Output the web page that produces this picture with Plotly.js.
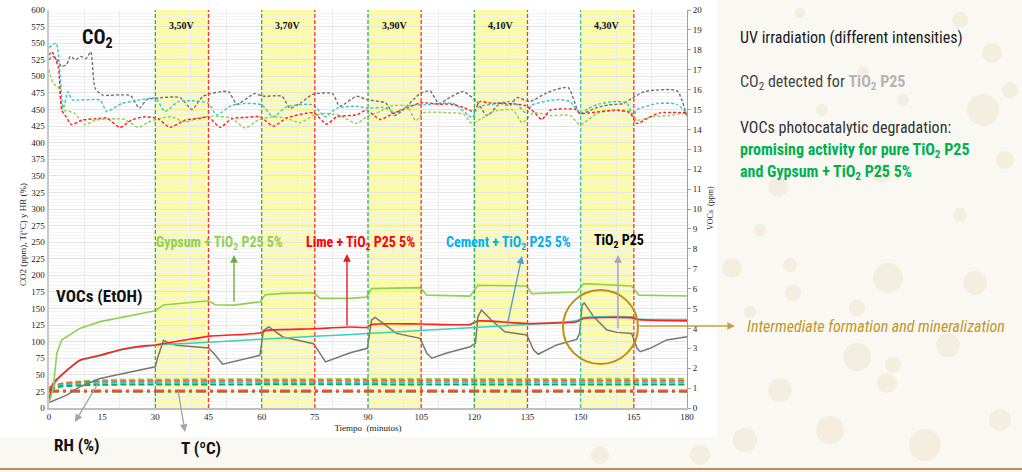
<!DOCTYPE html>
<html>
<head>
<meta charset="utf-8">
<script src="https://cdn.plot.ly/plotly-3.0.1.min.js"></script>
<style>html,body{margin:0;padding:0;background:#faf8f3;}#chart{width:1022px;height:472px;}</style>
</head>
<body>
<div id="chart"></div>
<script>
// ---------------- DATA ----------------
// Irradiation bands (minutes) and voltage labels
const bandStarts = [30, 60, 90, 120, 150];
const bandLength = 15;
const bandLabels = ['3,50V', '3,70V', '3,90V', '4,10V', '4,30V'];
const xTicks = [0, 15, 30, 45, 60, 75, 90, 105, 120, 135, 150, 165, 180];

// CO2 (ppm, left axis) – dotted lines
const co2TiO2Time = [0,1,2,3.5,5,6,7.5,9,10.5,11.8,13,15,20,23,25.5,27.6,30,37,40.3,43.5,50.6,53,58,60.4,65.7,68,71,74.5,80,82,86.8,89.6,93.4,95,97.5,100,104.7,107.5,110,113,116.8,120.7,123.6,127.3,130,132,135.7,140,143,146.5,149.8,154.6,158,162,164.8,168,177.2,180];
const co2TiO2 = [525,530,527,515,518,530,525,530,527,537,482,472,472,471,452,465,467,468,450,470,477,458,474,470,470,452,460,473,474,455,470,465,462,460,441,450,474,478,459,468,477,462,441,459,456,468,462,474,480,483,444,453,457,459,468,477,478,438];

const co2CementTime = [0,2,4,5.4,6.5,14.4,16.3,20.5,24.3,30,32.7,36.5,41.2,45,47.3,51.5,55.3,60,63.2,67,74.5,77.9,81.2,86.8,89.6,94.3,97.8,101.6,106,114,119.4,121,126.3,131,134.8,136,140.6,144,147,149.8,152,155,160,163,164.8,166,171.6,177,180];
const co2Cement = [543,550,452,477,465,464,447,459,463,467,447,462,463,459,442,456,459,457,439,454,457,439,452,455,452,453,446,456,457,459,438,453,459,462,444,456,463,465,462,444,451,458,462,460,441,450,459,458,444];

const co2LimeTime = [0,0.8,2.6,3.6,4.5,6.4,9.2,13,16.3,20,23.3,27,30.8,34.1,38.4,43,45,48.3,51.5,55.3,59.5,63.3,67,74.6,78.3,81.2,86.8,89.6,93.4,97.1,101,104.7,110.3,113.5,117,119.7,121.6,124,130,134.3,136.7,139,141.4,146,148.6,149.8,152.6,160.2,163.9,165.8,169.6,172.4,180];
const co2Lime = [532,537,514,449,442,427,434,436,437,423,434,439,436,423,434,437,439,423,436,438,439,425,437,445,428,439,442,449,435,444,452,460,458,458,453,447,462,460,459,456,447,435,449,451,450,444,445,449,445,429,439,445,445];

const co2GypsumTime = [0,1.2,2.6,4,5.9,7.3,10.2,13,17.7,21.4,25.2,28,30.8,34.5,38.4,42,45.8,51.5,55.3,59,63,67,70.8,74.6,78.3,82,86.8,89.6,93.4,96.2,101,103.5,105.6,113,117,119.3,121.6,126,131,133.5,136.7,141.4,147,149.8,154.7,160,164,166,170,175,180];
const co2Gypsum = [510,489,484,449,447,444,427,434,436,435,423,431,436,439,431,437,440,437,422,434,439,437,430,441,444,441,429,439,447,455,455,433,445,445,443,429,435,448,449,430,445,441,441,427,444,449,447,434,439,441,445];

// VOCs (ppm, right axis) – solid lines
const vocGypsumTime = [0,1.2,2.2,3.6,5,8.7,14.4,20,25.7,30,32.3,37.9,45,46.9,52,59.5,61,66,74.6,76.5,85,89.6,91,104.7,106.6,118.8,121,134.8,136.2,148.9,150.8,164.4,166.4,180];
const vocGypsum = [0.27,1.0,2.75,3.42,3.58,4.0,4.34,4.54,4.72,4.89,5.18,5.26,5.39,5.19,5.17,5.33,5.69,5.76,5.79,5.51,5.51,5.58,6.0,6.05,5.67,5.62,6.17,6.13,5.75,5.83,6.25,6.13,5.67,5.63];

const vocLimeTime = [0,1.1,4,8.7,14.4,20,25.7,30,38.8,45,59.5,61.4,74.6,85,89.6,91,104.7,118.8,121,134.8,148.9,150.8,164.4,166,180];
const vocLime = [0.32,1.23,1.73,2.4,2.65,2.93,3.1,3.17,3.43,3.6,3.77,3.9,3.98,4.07,4.05,4.2,4.22,4.2,4.37,4.25,4.33,4.5,4.53,4.45,4.38];

const vocCementTime = [0,1.6,4,8.7,14.4,20,30,45,60,75,90,105,120,135,149,150.8,164.4,166.4,180];
const vocCement = [0.3,1.2,1.72,2.38,2.63,2.9,3.15,3.3,3.46,3.6,3.75,3.9,4.05,4.2,4.4,4.55,4.58,4.47,4.45];

const vocTiO2Time = [0,5,8.7,14.4,20,25.7,30,30.6,32.3,34,36,45,46.6,49,52,59.5,60.5,62,66,74.6,76.5,78,85,89.8,91,92,94.3,98,104.7,106.6,108,112,118.8,120.3,121,122,124.8,128.6,134.8,136.7,138,143.2,148.9,149.7,150.4,151,153.7,157.4,160.3,164.4,165.9,166.8,169.6,174.3,180];
const vocTiO2 = [0.27,0.65,1.07,1.48,1.7,1.9,2.07,2.5,3.4,3.25,3.15,3.02,2.73,2.2,2.32,2.65,3.9,4.07,3.57,3.23,2.73,2.32,2.78,3.0,4.42,4.55,4.25,3.75,3.5,2.75,2.5,2.75,3.08,3.25,4.58,4.92,4.42,3.83,3.67,2.92,2.7,3.17,3.45,3.75,5.17,5.28,4.58,3.92,3.8,3.75,3.0,2.83,3.0,3.42,3.58];

// Relative humidity (%) – dashed, and temperature (ºC) – dash-dot, left axis
const rhTime = [0,3,8,15,30,180];
const rhGypsum = [29,36,40,42,43,44];
const rhLime = [31,36,38.5,40,41,41.5];
const rhCement = [28,34,36.5,38,38.5,39];
const rhGreen = [27,32,34,35,35.5,35.5];
const tTime = [0,180];
const tGray = [24,24];
const tGypsum = [25,25];
const tGreen = [25.5,25.5];
const tLime = [26.5,26.5];

// ---------------- STYLE / GEOMETRY ----------------
const PL = 49, PT = 10, PW = 638, PH = 398;
const px2x = p => (p - PL) / PW;
const py2y = p => (PT + PH - p) / PH;
const NARROW = 'Liberation Sans Narrow, Arial Narrow, Roboto Condensed, Roboto, sans-serif';
const SERIF = 'Liberation Serif, Times New Roman, serif';

const C = {gray:'#7a7a7a', cyan:'#33c6d0', red:'#ff2020', gyp:'#92d050', green:'#00b050'};

function line(x, y, color, dash, width, axis, shape) {
  return {x:x, y:y, type:'scatter', mode:'lines', yaxis: axis || 'y', hoverinfo:'skip',
          line:{color:color, dash:dash, width:width, shape: shape || 'spline', smoothing:0.6}};
}

const traces = [
  line(rhTime, rhGypsum, C.gyp, '6px,3px', 2),
  line(rhTime, rhLime, '#ff5a2a', '6px,3px', 2),
  line(rhTime, rhCement, C.cyan, '6px,3px', 2),
  line(rhTime, rhGreen, C.green, '6px,3px', 2),
  line(tTime, tGray, '#8c8c8c', '10px,4px,3px,4px', 2),
  line(tTime, tGypsum, '#a8b84a', '10px,4px,3px,4px', 2),
  line(tTime, tGreen, C.green, '10px,4px,3px,4px', 2),
  line(tTime, tLime, '#ff4a2a', '10px,4px,3px,4px', 2),
  line(co2TiO2Time, co2TiO2, '#707070', '3px,2px', 1.4),
  line(co2CementTime, co2Cement, C.cyan, '3px,2px', 1.4),
  line(co2GypsumTime, co2Gypsum, C.gyp, '3px,2px', 1.4),
  line(co2LimeTime, co2Lime, C.red, '3px,2px', 1.4),
  line(vocTiO2Time, vocTiO2, '#787870', 'solid', 1.5, 'y2', 'linear'),
  line(vocCementTime, vocCement, '#3ccfc0', 'solid', 1.5, 'y2'),
  line(vocLimeTime, vocLime, C.red, 'solid', 1.6, 'y2'),
  line(vocGypsumTime, vocGypsum, '#8fd14f', 'solid', 1.6, 'y2', 'linear')
];

// ---------------- SHAPES ----------------
const shapes = [];
// white chart image area
shapes.push({type:'rect', xref:'paper', yref:'paper', x0:px2x(0), x1:px2x(717), y0:py2y(437), y1:py2y(0),
  fillcolor:'#ffffff', line:{width:0}, layer:'below'});
// decorative slide bubbles
const bubbles = [[732,268,10],[790,265,7],[888,278,15],[975,283,12],[793,293,8],[857,308,8],[750,312,6],
  [857,357,14],[948,345,12],[893,365,8],[780,390,12],[887,383,10],[983,110,16],[992,53,10],[1010,90,8],
  [800,13,5],[863,72,6],[822,110,6],[903,100,6],[778,187,10],[882,173,10],[1005,160,9],[960,215,7],
  [745,440,12],[830,430,14],[925,445,16],[1000,420,11],[700,455,10],[600,455,9],[960,20,8],[760,230,6]];
bubbles.forEach(b => shapes.push({type:'circle', xref:'paper', yref:'paper',
  x0:px2x(b[0]-b[2]), x1:px2x(b[0]+b[2]), y0:py2y(b[1]+b[2]), y1:py2y(b[1]-b[2]),
  fillcolor:'rgba(222,200,150,0.2)', line:{width:0}, layer:'below'}));
// bottom slide rule
shapes.push({type:'line', xref:'paper', yref:'paper', x0:px2x(0), x1:px2x(1022), y0:py2y(469), y1:py2y(469),
  line:{color:'#c08a5a', width:2}});
// irradiation bands + edges
bandStarts.forEach((s, i) => {
  shapes.push({type:'rect', xref:'x', yref:'y', x0:s, x1:s + bandLength, y0:0, y1:600,
    fillcolor:'#fbfba6', line:{width:0}, layer:'below'});
  shapes.push({type:'line', xref:'x', yref:'y', x0:s, x1:s, y0:0, y1:600,
    line:{color: i === 4 ? '#3cc8a0' : '#2db84a', width:1.3, dash:'4px,2px'}});
  shapes.push({type:'line', xref:'x', yref:'y', x0:s + bandLength, x1:s + bandLength, y0:0, y1:600,
    line:{color:'#ff3030', width:1.3, dash:'4px,2px'}});
});
// highlight circle
shapes.push({type:'circle', xref:'paper', yref:'paper', x0:px2x(563), x1:px2x(638), y0:py2y(364), y1:py2y(290),
  line:{color:'#c08f10', width:2}, layer:'above'});

// ---------------- ANNOTATIONS ----------------
const ann = [];
function txt(text, cx, cy, size, color, opts) {
  ann.push(Object.assign({text:text, xref:'paper', yref:'paper', x:px2x(cx), y:py2y(cy),
    xanchor:'center', yanchor:'middle', showarrow:false,
    font:{family:NARROW, size:size, color:color}}, opts || {}));
}
function arrow(hx, hy, tx, ty, color) {
  ann.push({text:'', xref:'paper', yref:'paper', x:px2x(hx), y:py2y(hy), ax:tx - hx, ay:ty - hy,
    showarrow:true, arrowhead:2, arrowsize:1.1, arrowwidth:1.4, arrowcolor:color});
}
bandStarts.forEach((s, i) => ann.push({text:'<b>' + bandLabels[i] + '</b>', xref:'x', yref:'y',
  x:s + bandLength / 2, y:576, showarrow:false, font:{family:SERIF, size:10, color:'#111'}}));

txt('<b>CO<sub>2</sub></b>', 97, 38, 20, '#111');
txt('<b>VOCs (EtOH)</b>', 99, 296, 17, '#111');
txt('<b>RH (%)</b>', 77, 445, 17, '#111');
txt('<b>T (ºC)</b>', 201, 448, 17, '#111');
txt('<b>Gypsum + TiO<sub>2</sub> P25 5%</b>', 219, 243, 14, '#92d050');
txt('<b>Lime + TiO<sub>2</sub> P25 5%</b>', 360, 243, 14, '#ff0000');
txt('<b>Cement + TiO<sub>2</sub> P25 5%</b>', 508, 243, 14, '#00b0f0');
txt('<b>TiO<sub>2</sub> P25</b>', 619, 241, 14, '#000000');
arrow(234, 255, 234, 303, '#70ad47');
arrow(347, 254, 347, 327, '#e02020');
arrow(522, 256, 507, 326, '#5b9bd5');
arrow(618, 255, 618, 330, '#a6a6a6');
arrow(75, 422, 100, 380, '#a6a6a6');
arrow(185, 432, 178, 390, '#a6a6a6');
arrow(735, 326, 638, 326, '#c9a03a');

// axis titles
txt('CO2 (ppm), T(ºC) y HR (%)', 23, 235, 9, '#222', {textangle:-90, font:{family:SERIF, size:9, color:'#222'}});
txt('VOCs  (ppm)', 710, 208, 8, '#222', {textangle:-90, font:{family:SERIF, size:8, color:'#222'}});

// slide text
const L = {xanchor:'left'};
txt('UV irradiation (different intensities)', 738, 37, 16, '#1a1a1a', L);
txt('CO<sub>2</sub> detected for <b><span style="color:#b4b4b4">TiO<sub>2</sub> P25</span></b>', 738, 82, 16, '#444444', L);
txt('VOCs photocatalytic degradation:', 738, 127, 16, '#333333', L);
txt('<b>promising activity for pure TiO<sub>2</sub> P25</b>', 738, 150, 16, '#00b050', L);
txt('<b>and Gypsum + TiO<sub>2</sub> P25 5%</b>', 738, 172, 16, '#00b050', L);
txt('<i>Intermediate formation and mineralization</i>', 745, 326, 16, '#c0962b', L);

// ---------------- LAYOUT ----------------
const layout = {
  width:1022, height:472,
  margin:{l:PL, r:1022 - PL - PW, t:PT, b:472 - PT - PH, pad:0},
  paper_bgcolor:'#faf8f3', plot_bgcolor:'#ffffff',
  showlegend:false,
  font:{family:SERIF, size:9, color:'#222'},
  xaxis:{range:[0,180], tickvals:xTicks, showgrid:false, zeroline:false, showline:true,
    linecolor:'#bfbfbf', linewidth:1.5, ticks:'', tickfont:{family:SERIF, size:9},
    minor:{tick0:0, dtick:10, showgrid:true, gridcolor:'#e9e9e9', ticks:''},
    title:{text:'Tiempo  (minutos)', font:{family:SERIF, size:9}, standoff:3}},
  yaxis:{range:[0,600], dtick:25, showgrid:true, gridcolor:'#e4e4e4', zeroline:false,
    minor:{dtick:5, showgrid:true, gridcolor:'#f3f3f3', ticks:''},
    showline:true, linecolor:'#c8c8c8', linewidth:2.5, ticks:'', tickfont:{family:SERIF, size:9}},
  yaxis2:{range:[0,20], dtick:1, overlaying:'y', side:'right', showgrid:false, zeroline:false,
    showline:true, linecolor:'#a0a0a0', linewidth:1, ticks:'outside', ticklen:3, tickcolor:'#a0a0a0',
    tickfont:{family:SERIF, size:9}},
  shapes:shapes,
  annotations:ann
};

Plotly.newPlot('chart', traces, layout, {staticPlot:true, displayModeBar:false});
</script>
</body>
</html>
